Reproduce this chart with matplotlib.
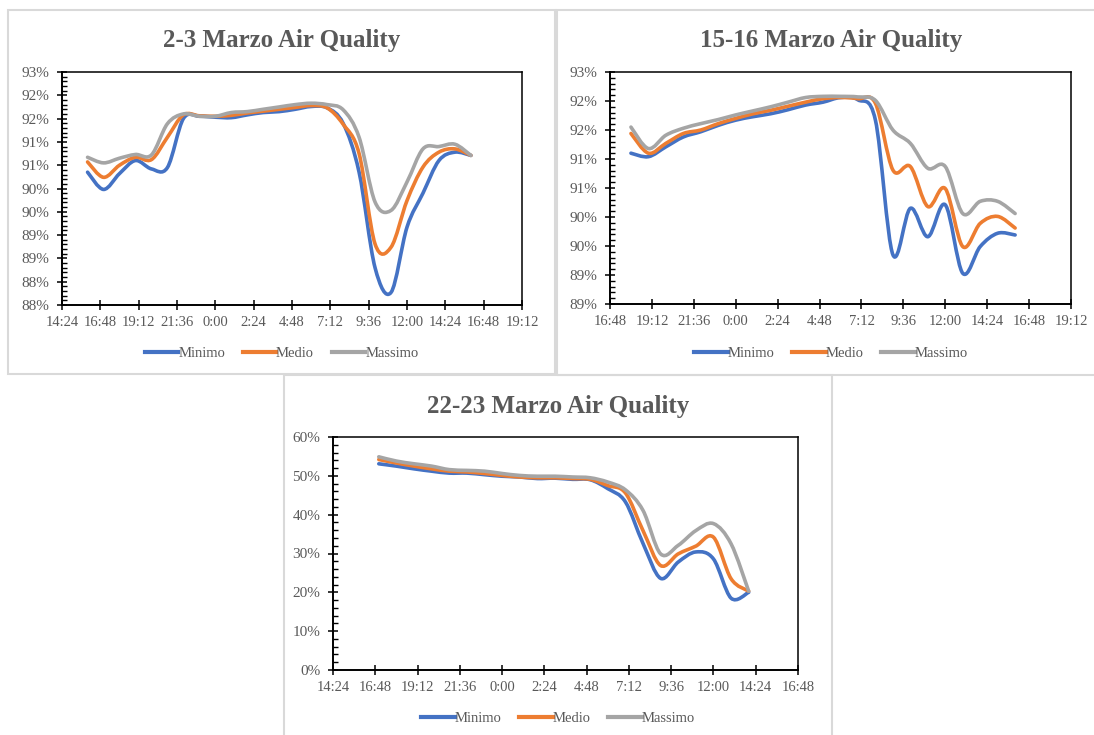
import numpy as np
import matplotlib
matplotlib.use("Agg")
import matplotlib.pyplot as plt
from matplotlib.path import Path
from matplotlib.patches import PathPatch, Rectangle
from matplotlib.lines import Line2D

plt.rcParams['font.family'] = ['Liberation Serif', 'DejaVu Serif']

W, H = 1094, 735
SERIES = ["Minimo", "Medio", "Massimo"]
COLORS = ["#4472C4", "#ED7D31", "#A5A5A5"]
TEXT_GRAY = "#595959"
BORDER_GRAY = "#D9D9D9"

# hours counted from midnight of the first day (16 = 16:00, 40 = 16:00 next day)
# --- 2-3 Marzo ---
hours_0203 = list(range(16, 41))
minimo_0203 = [90.35, 89.98, 90.32, 90.60, 90.42, 90.45, 91.50, 91.55, 91.53, 91.52,
               91.58, 91.63, 91.65, 91.70, 91.76, 91.73, 91.40, 90.35, 88.30, 87.77,
               89.17, 89.90, 90.60, 90.78, 90.71]
medio_0203 = [90.57, 90.24, 90.50, 90.67, 90.62, 91.10, 91.58, 91.56, 91.55, 91.57,
              91.62, 91.66, 91.70, 91.74, 91.78, 91.73, 91.38, 90.75, 88.81, 88.74,
              89.74, 90.46, 90.78, 90.85, 90.71]
massimo_0203 = [90.67, 90.55, 90.65, 90.73, 90.72, 91.39, 91.60, 91.55, 91.55, 91.63,
                91.65, 91.70, 91.75, 91.80, 91.83, 91.80, 91.69, 91.10, 89.71, 89.53,
                90.14, 90.85, 90.90, 90.95, 90.71]
ylabels_0203 = ["88%", "88%", "89%", "89%", "90%", "90%", "91%", "91%", "92%", "92%", "93%"]
xlabels_0203 = ["14:24", "16:48", "19:12", "21:36", "0:00", "2:24", "4:48", "7:12",
                "9:36", "12:00", "14:24", "16:48", "19:12"]

# --- 15-16 Marzo ---
hours_1516 = list(range(18, 41))
minimo_1516 = [91.10, 91.04, 91.21, 91.38, 91.47, 91.58, 91.67, 91.73, 91.78, 91.85,
               91.93, 91.98, 92.06, 92.02, 91.67, 89.35, 90.15, 89.66, 90.21, 89.03,
               89.49, 89.72, 89.69]
medio_1516 = [91.44, 91.10, 91.27, 91.44, 91.50, 91.61, 91.70, 91.78, 91.84, 91.91,
              91.98, 92.04, 92.06, 92.04, 91.96, 90.81, 90.87, 90.18, 90.49, 89.49,
              89.89, 90.01, 89.81]
massimo_1516 = [91.55, 91.18, 91.41, 91.53, 91.61, 91.68, 91.76, 91.83, 91.90, 91.98,
                92.06, 92.08, 92.08, 92.07, 92.01, 91.50, 91.27, 90.84, 90.87, 90.06,
                90.27, 90.27, 90.06]
ylabels_1516 = ["89%", "89%", "90%", "90%", "91%", "91%", "92%", "92%", "93%"]
xlabels_1516 = ["16:48", "19:12", "21:36", "0:00", "2:24", "4:48", "7:12", "9:36",
                "12:00", "14:24", "16:48", "19:12"]

# --- 22-23 Marzo ---
hours_2223 = list(range(17, 39))
minimo_2223 = [53.1, 52.5, 51.8, 51.2, 50.7, 50.7, 50.3, 49.9, 49.7, 49.3, 49.4,
               49.1, 49.0, 46.7, 43.3, 32.6, 23.6, 27.8, 30.4, 28.6, 18.5, 20.0]
medio_2223 = [54.2, 53.3, 52.5, 51.8, 51.2, 51.0, 50.6, 50.1, 49.7, 49.5, 49.5,
              49.3, 49.1, 47.5, 45.6, 35.9, 26.9, 29.9, 31.9, 34.2, 23.5, 20.3]
massimo_2223 = [54.9, 53.8, 53.1, 52.5, 51.6, 51.4, 51.2, 50.6, 50.1, 49.9, 49.9,
                49.7, 49.5, 48.4, 46.4, 41.1, 29.9, 32.1, 35.9, 37.7, 32.5, 20.3]
ylabels_2223 = ["0%", "10%", "20%", "30%", "40%", "50%", "60%"]
xlabels_2223 = ["14:24", "16:48", "19:12", "21:36", "0:00", "2:24", "4:48", "7:12",
                "9:36", "12:00", "14:24", "16:48"]


def smooth_path(x, y):
    # Excel-like smoothed line: Catmull-Rom segments drawn as cubic Bezier curves
    pts = np.column_stack([np.asarray(x, float), np.asarray(y, float)])
    p = np.vstack([pts[0], pts, pts[-1]])
    verts = [pts[0]]
    codes = [Path.MOVETO]
    for i in range(1, len(p) - 2):
        c1 = p[i] + (p[i + 1] - p[i - 1]) / 6
        c2 = p[i + 1] - (p[i + 2] - p[i]) / 6
        verts += [c1, c2, p[i + 1]]
        codes += [Path.CURVE4] * 3
    return Path(verts, codes)


def px_axes(fig, left, top, right, bottom):
    return fig.add_axes([left / W, 1 - bottom / H, (right - left) / W, (bottom - top) / H])


def draw_chart(fig, box, panel, title, hours, series, xstart, xlabels, ystart, ystep, ylabels):
    px0, py0, px1, py1 = panel
    fig.patches.append(Rectangle((px0 / W, 1 - py1 / H), (px1 - px0) / W, (py1 - py0) / H,
                                 transform=fig.transFigure, fill=False,
                                 ec=BORDER_GRAY, lw=1.5))
    cx = (px0 + px1) / 2
    fig.text(cx / W, 1 - (py0 + 31) / H, title, ha='center', va='center',
             fontsize=18, fontweight='bold', color=TEXT_GRAY)

    ax = px_axes(fig, *box)
    for vals, color in zip(series, COLORS):
        ax.add_patch(PathPatch(smooth_path(hours, vals), facecolor='none', edgecolor=color,
                               lw=2.6, capstyle='round', joinstyle='round'))

    xt = xstart + 2.4 * np.arange(len(xlabels))
    ax.set_xlim(xt[0], xt[-1])
    ax.set_xticks(xt)
    ax.set_xticklabels(xlabels)
    yt = ystart + ystep * np.arange(len(ylabels))
    ax.set_ylim(yt[0], yt[-1])
    ax.set_yticks(yt)
    ax.set_yticklabels(ylabels)
    ax.set_yticks(ystart + ystep / 5 * np.arange(5 * (len(ylabels) - 1) + 1), minor=True)

    ax.tick_params(axis='both', which='major', direction='inout', length=6.5, width=1.1,
                   labelcolor=TEXT_GRAY, color='black')
    ax.tick_params(axis='y', which='major', pad=6, labelsize=11)
    ax.tick_params(axis='x', which='major', pad=5, labelsize=10.5)
    ax.tick_params(axis='y', which='minor', direction='in', length=3.5, width=1.0)
    for side in ['left', 'bottom']:
        ax.spines[side].set_linewidth(1.4)
    for side in ['top', 'right']:
        ax.spines[side].set_linewidth(1.1)

    handles = [Line2D([], [], color=c, lw=3.0) for c in COLORS]
    fig.legend(handles, SERIES, loc='center', bbox_to_anchor=(cx / W, 1 - (py0 + 343) / H),
               ncol=3, frameon=False, fontsize=10.5, labelcolor=TEXT_GRAY,
               handlelength=2.3, handletextpad=0.0, columnspacing=1.2)
    return ax


fig = plt.figure(figsize=(W / 100, H / 100), dpi=100)

draw_chart(fig, (62, 72, 522, 305), (8, 10, 555, 374), "2-3 Marzo Air Quality",
           hours_0203, [minimo_0203, medio_0203, massimo_0203],
           14.4, xlabels_0203, 87.5, 0.5, ylabels_0203)
draw_chart(fig, (610, 72, 1071, 304), (557, 10, 1105, 375), "15-16 Marzo Air Quality",
           hours_1516, [minimo_1516, medio_1516, massimo_1516],
           16.8, xlabels_1516, 88.5, 0.5, ylabels_1516)
draw_chart(fig, (333, 437, 798, 670), (284, 375, 832, 745), "22-23 Marzo Air Quality",
           hours_2223, [minimo_2223, medio_2223, massimo_2223],
           14.4, xlabels_2223, 0.0, 10.0, ylabels_2223)

fig.savefig("out.png", dpi=100)
